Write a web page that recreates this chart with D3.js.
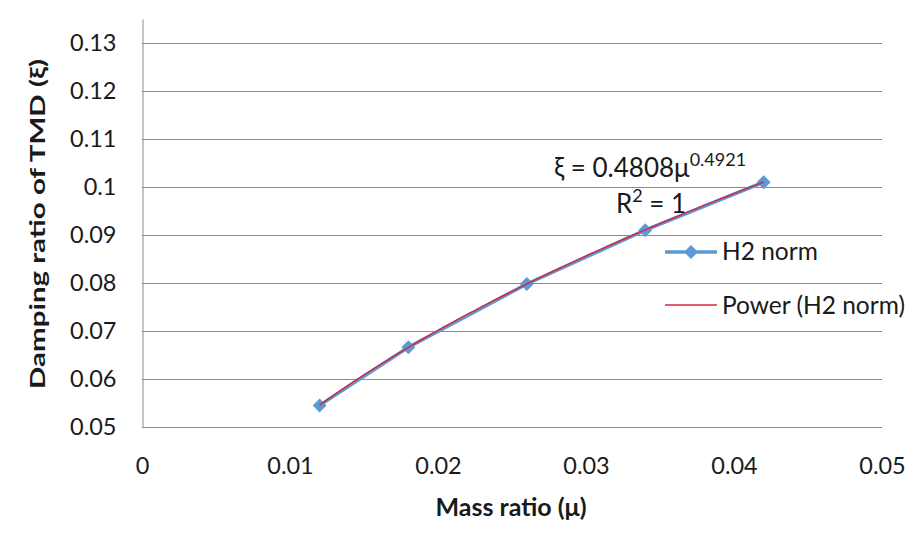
<!DOCTYPE html>
<html>
<head>
<meta charset="utf-8">
<script src="https://cdn.jsdelivr.net/npm/d3@7"></script>
<style>
  body { margin: 0; background: #fff; }
  text { font-family: Lato, "Open Sans", sans-serif; fill: #1a1a1a; }
</style>
</head>
<body>
<div id="chart"></div>
<script>
(function () {

// data
const massRatio = [0.012, 0.018, 0.026, 0.034, 0.042];
const damping   = [0.0545, 0.0666, 0.0798, 0.091, 0.101];
const xTicks = [0, 0.01, 0.02, 0.03, 0.04, 0.05];
const yTicks = [0.05, 0.06, 0.07, 0.08, 0.09, 0.1, 0.11, 0.12, 0.13];
// power trendline, as printed on the chart
const fitCoef = 0.4808, fitExp = 0.4921;

const width = 923, height = 555;

const svg = d3.select("#chart").append("svg")
    .attr("width", width)
    .attr("height", height);

// scales
const x = d3.scaleLinear().domain([0, 0.05]).range([142, 882]);
const y = d3.scaleLinear().domain([0.05, 0.135]).range([427, 19]);

// gridlines
svg.append("g")
  .selectAll("line")
  .data(yTicks)
  .join("line")
    .attr("x1", x(0))
    .attr("x2", x(0.05))
    .attr("y1", d => y(d) + 0.5)
    .attr("y2", d => y(d) + 0.5)
    .attr("stroke", "#8c8c8c")
    .attr("stroke-width", 1);

// y axis
svg.append("g")
    .attr("transform", `translate(${x(0) + 0.5},0)`)
    .call(d3.axisLeft(y).tickValues(yTicks).tickSize(0).tickPadding(26)
      .tickFormat(d => +d.toFixed(2)))
    .call(g => g.select(".domain").attr("stroke", "#8c8c8c"))
    .call(g => g.selectAll("text")
      .attr("font-size", 23.5)
      .attr("font-family", "Lato")
      .attr("fill", "#1a1a1a"));

// x axis (labels only, axis line is the 0.05 gridline)
svg.append("g")
    .attr("transform", `translate(0,${y(0.05)})`)
    .call(d3.axisBottom(x).tickValues(xTicks).tickSize(0).tickPadding(30)
      .tickFormat(d => +d.toFixed(2)))
    .call(g => g.select(".domain").remove())
    .call(g => g.selectAll("text")
      .attr("font-size", 23.5)
      .attr("font-family", "Lato")
      .attr("fill", "#1a1a1a"));

// axis titles
svg.append("text")
    .attr("x", 511)
    .attr("y", 516)
    .attr("text-anchor", "middle")
    .attr("font-size", 25)
    .attr("font-weight", "bold")
    .text("Mass ratio (μ)");

svg.append("text")
    .attr("transform", "translate(45,224) rotate(-90)")
    .attr("text-anchor", "middle")
    .attr("font-size", 20)
    .attr("font-weight", "bold")
    .attr("textLength", 330)
    .attr("lengthAdjust", "spacingAndGlyphs")
    .text("Damping ratio of TMD (ξ)");

const points = massRatio.map((m, i) => ({m: m, v: damping[i]}));
const blue = "#5b9bd5", red = "#d42a3c";

// data series
svg.append("path")
    .datum(points)
    .attr("fill", "none")
    .attr("stroke", blue)
    .attr("stroke-width", 3.5)
    .attr("d", d3.line().x(d => x(d.m)).y(d => y(d.v)));

// diamond marker = square turned 45 degrees
const marker = d3.symbol().type(d3.symbolSquare).size(98);
svg.append("g")
  .selectAll("path")
  .data(points)
  .join("path")
    .attr("transform", d => `translate(${x(d.m)},${y(d.v)}) rotate(45)`)
    .attr("d", marker)
    .attr("fill", blue);

// power trendline
const fitPts = d3.range(0, 61).map(i => {
  const m = massRatio[0] + (massRatio[4] - massRatio[0]) * i / 60;
  return {m: m, v: fitCoef * Math.pow(m, fitExp)};
});
svg.append("path")
    .datum(fitPts)
    .attr("fill", "none")
    .attr("stroke", red)
    .attr("stroke-width", 1.5)
    .attr("d", d3.line().x(d => x(d.m)).y(d => y(d.v)));

// trendline label
const eq = svg.append("text")
    .attr("x", 650)
    .attr("y", 177)
    .attr("text-anchor", "middle")
    .attr("font-size", 26);
eq.append("tspan").text("ξ = " + fitCoef + "μ");
eq.append("tspan").attr("dy", -11).attr("font-size", 18).text(fitExp);

const r2 = svg.append("text")
    .attr("x", 651)
    .attr("y", 213)
    .attr("text-anchor", "middle")
    .attr("font-size", 26);
r2.append("tspan").text("R");
r2.append("tspan").attr("dy", -11).attr("font-size", 18).text("2");
r2.append("tspan").attr("dy", 11).text(" = 1");

// legend
const legend = svg.append("g");
legend.append("line")
    .attr("x1", 665).attr("x2", 717)
    .attr("y1", 252).attr("y2", 252)
    .attr("stroke", blue).attr("stroke-width", 3.5);
legend.append("path")
    .attr("transform", "translate(691,252) rotate(45)")
    .attr("d", marker)
    .attr("fill", blue);
legend.append("text")
    .attr("x", 722).attr("y", 260)
    .attr("font-size", 24.5)
    .text("H2 norm");

legend.append("line")
    .attr("x1", 665).attr("x2", 717)
    .attr("y1", 305).attr("y2", 305)
    .attr("stroke", red).attr("stroke-width", 1.5);
legend.append("text")
    .attr("x", 722).attr("y", 314)
    .attr("font-size", 24.5)
    .text("Power (H2 norm)");

})()
</script>
</body>
</html>
